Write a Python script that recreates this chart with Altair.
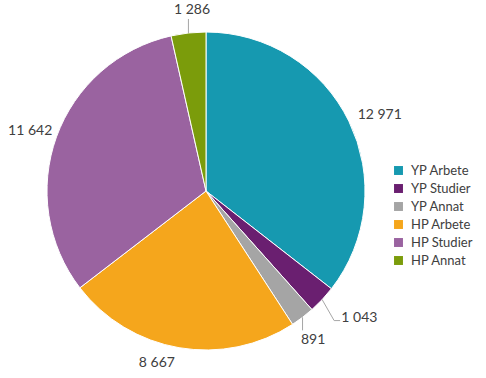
import altair as alt
import pandas as pd

categories = ["YP Arbete", "YP Studier", "YP Annat", "HP Arbete", "HP Studier", "HP Annat"]
values = [12971, 1043, 891, 8667, 11642, 1286]
labels = ["12 971", "1 043", "891", "8 667", "11 642", "1 286"]
colors = ["#1699b0", "#6a1f70", "#a5a5a5", "#f5a61c", "#9a63a0", "#7b9c0b"]

df = pd.DataFrame({"cat": categories, "value": values, "label": labels, "i": list(range(len(values)))})

CX, CY, R = 206, 191, 159
FONT = "Lato"
TXT = "#404040"

# label placement style: radius, dx, dy per category
label_style = {
    "YP Arbete": (190, 3, 7),
    "YP Studier": (199, 8, -9),
    "YP Annat": (183, -4, 4),
    "HP Arbete": (178, -19, -3),
    "HP Studier": (187, 0, 4),
    "HP Annat": (181, 6, -1),
}

base = alt.Chart(df).encode(
    theta=alt.Theta("value:Q", stack=True),
    order=alt.Order("i:Q"),
)

pie = base.mark_arc(stroke="white", strokeWidth=1, radius=R).encode(
    x=alt.value(CX), y=alt.value(CY),
    color=alt.Color(
        "cat:N",
        sort=categories,
        scale=alt.Scale(domain=categories, range=colors),
        legend=alt.Legend(
            title=None, orient="none", legendX=392, legendY=164,
            symbolType="square", symbolSize=80, symbolStrokeWidth=0,
            labelFontSize=13, labelFont=FONT, labelColor=TXT,
            rowPadding=4, labelOffset=6,
        ),
    ),
)

text_layers = []
for cat, (r, dx, dy) in label_style.items():
    text_layers.append(
        base.mark_text(radius=r, dx=dx, dy=dy, fontSize=14, font=FONT, color=TXT).encode(
            x=alt.value(CX), y=alt.value(CY),
            text="label:N",
            opacity=alt.condition(alt.datum.cat == cat, alt.value(1), alt.value(0)),
        )
    )

lead_base = alt.Chart(df).transform_window(
    cum="sum(value)", sort=[alt.SortField("i")], frame=[None, 0]
).transform_joinaggregate(
    total="sum(value)"
).transform_calculate(
    a="(datum.cum - datum.value/2) / datum.total * 2 * PI",
).transform_filter(
    "datum.value < 1500"
).transform_calculate(
    xa=f"{CX} + {R} * sin(datum.a)",
    ya=f"{CY} - {R} * cos(datum.a)",
).transform_calculate(
    xb="datum.cat == 'YP Studier' ? datum.xa + 12 : datum.xa",
    yb="datum.cat == 'YP Studier' ? datum.ya + 21 : datum.ya - (cos(datum.a) > 0 ? 14 : -13)",
).transform_calculate(
    xc="datum.cat == 'YP Studier' ? datum.xb + 6 : datum.xb",
)

leg1 = lead_base.mark_rule(color="#a6a6a6", strokeWidth=1).encode(
    x=alt.X("xa:Q", scale=None), y=alt.Y("ya:Q", scale=None),
    x2="xb:Q", y2="yb:Q",
)
leg2 = lead_base.mark_rule(color="#a6a6a6", strokeWidth=1).encode(
    x=alt.X("xb:Q", scale=None), y=alt.Y("yb:Q", scale=None),
    x2="xc:Q", y2="yb:Q",
)

chart = alt.layer(pie, leg1, leg2, *text_layers).properties(
    width=486, height=378, padding=0, autosize="none", background="white"
).configure_view(stroke=None)

chart.save("out.html", embed_options={"renderer": "svg", "actions": False})
